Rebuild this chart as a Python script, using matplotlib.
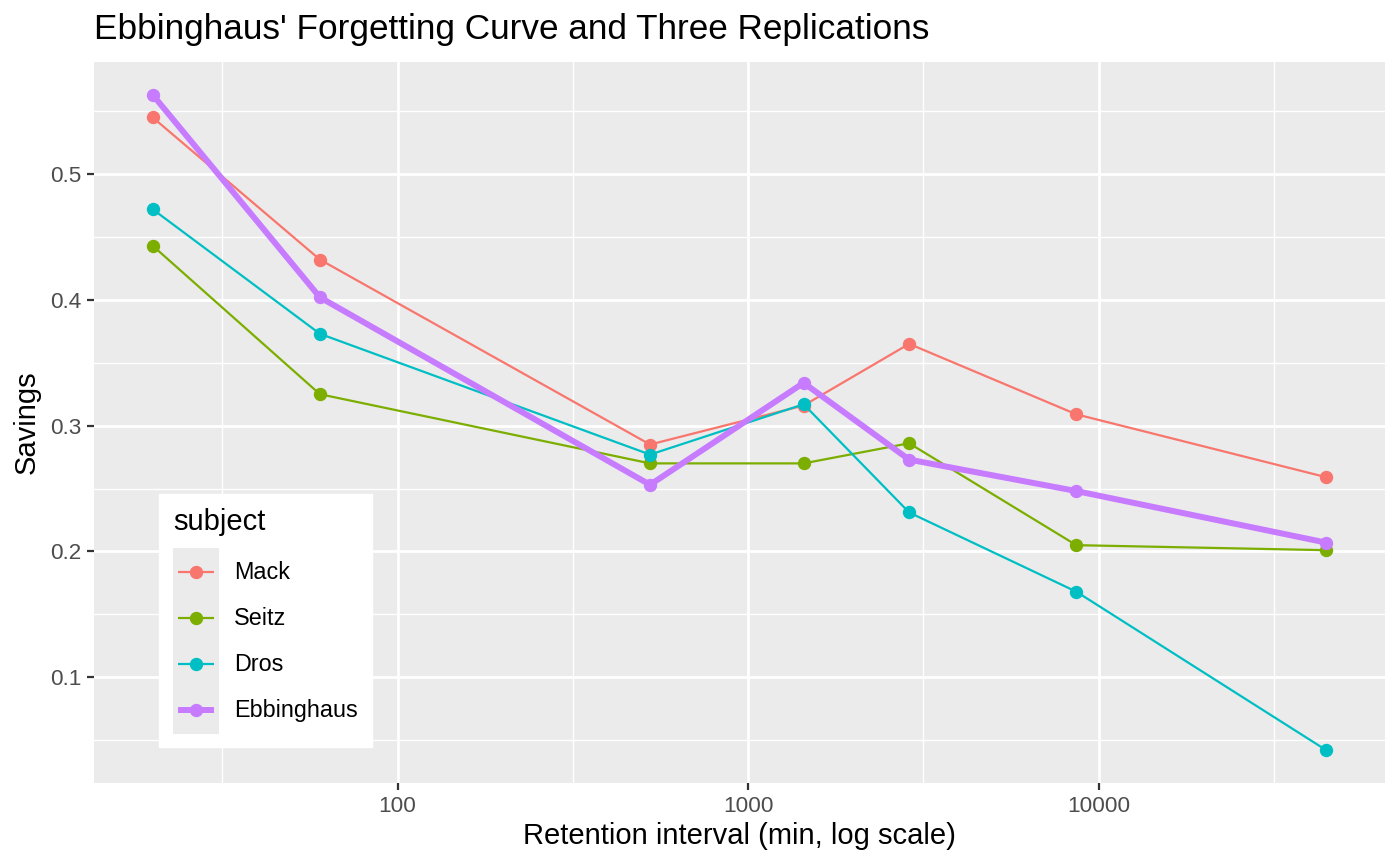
import numpy as np
import matplotlib
matplotlib.use("Agg")
import matplotlib.pyplot as plt
from matplotlib.ticker import FixedLocator, NullFormatter
from matplotlib.legend_handler import HandlerLine2D
from matplotlib.patches import Rectangle

plt.rcParams['font.family'] = ['Liberation Sans', 'DejaVu Sans']

# retention intervals in minutes
interval = [20, 60, 525, 1440, 2880, 8640, 44640]
subjects = ['Mack', 'Seitz', 'Dros', 'Ebbinghaus']
mack = [0.545, 0.432, 0.285, 0.316, 0.365, 0.309, 0.259]
seitz = [0.443, 0.325, 0.270, 0.270, 0.286, 0.205, 0.201]
dros = [0.472, 0.373, 0.277, 0.317, 0.231, 0.168, 0.042]
ebbinghaus = [0.563, 0.402, 0.253, 0.334, 0.273, 0.248, 0.207]
colors = ['#F8766D', '#7CAE00', '#00BFC4', '#C77CFF']

series = [mack, seitz, dros, ebbinghaus]
widths = [1.6, 1.6, 1.6, 4.3]

LEG_FS = 16.8
ROW_PT = 46 * 72 / 100  # legend row pitch in points
# matplotlib's box height is fs*hh - 0.35*fs*(hh-0.7)
HH = (ROW_PT / LEG_FS - 0.245) / 0.65


class GreyKeyHandler(HandlerLine2D):
    # ggplot style key: grey square behind a shorter line
    def create_artists(self, legend, orig_handle, xdescent, ydescent,
                       width, height, fontsize, trans):
        pad = 3.5
        arts = super().create_artists(legend, orig_handle, xdescent - pad,
                                      ydescent, width - 2 * pad, height,
                                      fontsize, trans)
        cy = -ydescent + height / 2
        for a in arts:
            a.set_ydata(np.full_like(np.asarray(a.get_xdata(), float), cy))
        bg = Rectangle((-xdescent, -ydescent - 0.5), width, height + 1,
                       facecolor='#EBEBEB', edgecolor='none', transform=trans)
        return [bg] + list(arts)


fig = plt.figure(figsize=(14, 8.66), dpi=100)
ax = fig.add_axes([94/1400, 1-783/866, (1385-94)/1400, (783-62)/866])
ax.set_facecolor('#EBEBEB')

for name, vals, c, lw in zip(subjects, series, colors, widths):
    ax.plot(interval, vals, color=c, lw=lw, marker='o', ms=8.6,
            label=name, solid_capstyle='butt', zorder=3)

ax.set_xscale('log')
lx = np.log10(interval)
xr = lx.max() - lx.min()
ax.set_xlim(10**(lx.min() - 0.05*xr), 10**(lx.max() + 0.05*xr))
allv = np.concatenate(series)
yr = allv.max() - allv.min()
ax.set_ylim(allv.min() - 0.05*yr, allv.max() + 0.05*yr)

ax.xaxis.set_major_locator(FixedLocator([100, 1000, 10000]))
ax.xaxis.set_minor_locator(FixedLocator([10**1.5, 10**2.5, 10**3.5, 10**4.5]))
ax.xaxis.set_minor_formatter(NullFormatter())
ax.set_xticklabels(['100', '1000', '10000'])
ax.set_yticks([0.1, 0.2, 0.3, 0.4, 0.5])
ax.set_yticks([0.05, 0.15, 0.25, 0.35, 0.45, 0.55], minor=True)
ax.set_yticklabels(['0.1', '0.2', '0.3', '0.4', '0.5'])

ax.grid(which='major', color='white', lw=2.0, zorder=0)
ax.grid(which='minor', color='white', lw=1.0, zorder=0)
ax.set_axisbelow(True)
for s in ax.spines.values():
    s.set_visible(False)
ax.tick_params(which='major', length=5, width=1.6, color='#333333',
               labelsize=16.2, labelcolor='#4D4D4D', pad=4)
ax.tick_params(which='minor', length=0)

ax.set_xlabel('Retention interval (min, log scale)', fontsize=21, labelpad=4)
ax.set_ylabel('Savings', fontsize=21, labelpad=7)
fig.text(94/1400, 1-30/866, "Ebbinghaus' Forgetting Curve and Three Replications",
         fontsize=25.3, va='center', ha='left')

leg = ax.legend(title='subject', loc='lower left',
                bbox_to_anchor=((159-94)/(1385-94), (783-747)/(783-62)),
                borderaxespad=0,
                fontsize=LEG_FS, title_fontsize=21, frameon=True,
                fancybox=False, edgecolor='white', framealpha=1,
                handlelength=1.97, handleheight=HH,
                labelspacing=0, borderpad=0.6, handletextpad=0.64,
                handler_map={plt.Line2D: GreyKeyHandler()})
leg._legend_box.align = 'left'
leg._legend_box.sep = 9.5

fig.savefig('out.png', dpi=100)
